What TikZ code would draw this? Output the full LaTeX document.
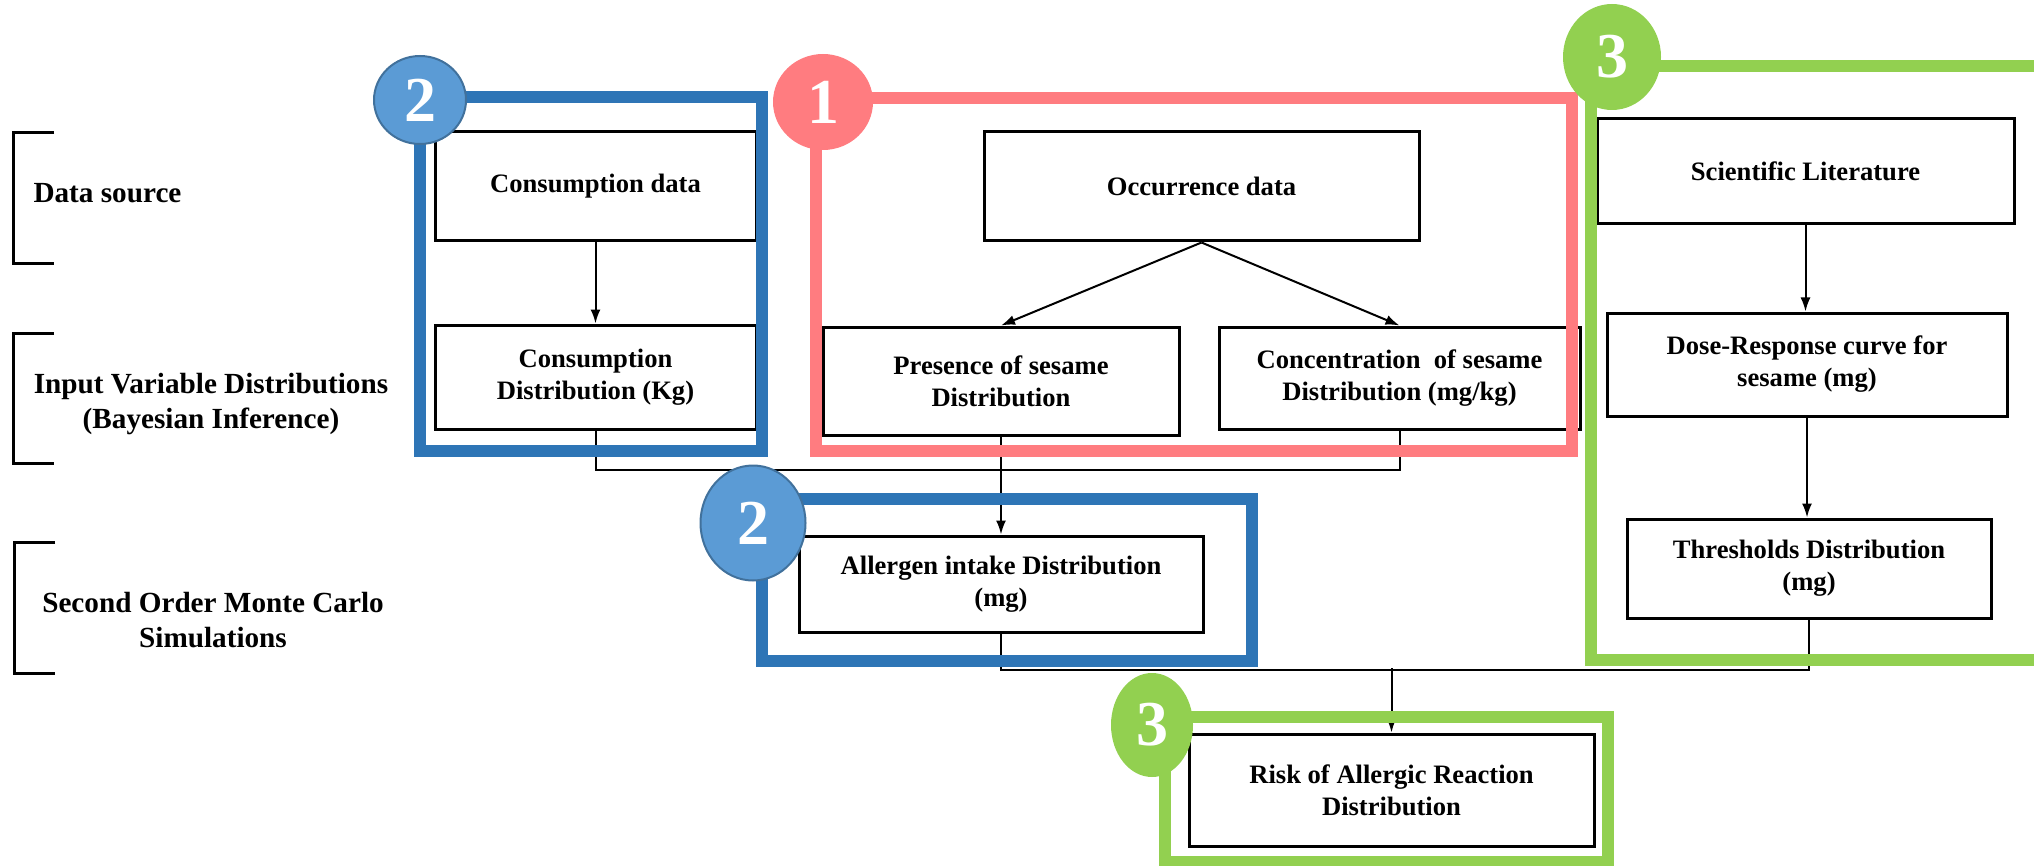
\documentclass[tikz,border=0pt]{standalone}
\usepackage{fontspec}
\setmainfont{Liberation Serif}
\usetikzlibrary{arrows.meta,shapes.geometric}
\definecolor{frameblue}{HTML}{2E75B6}
\definecolor{badgeblue}{HTML}{5B9BD5}
\definecolor{badgeline}{HTML}{41719C}
\definecolor{framered}{HTML}{FF7C80}
\definecolor{framegreen}{HTML}{92D050}

\begin{document}
\begin{tikzpicture}[x=0.5pt,y=-0.5pt,
    box/.style={draw, line width=1.5pt, align=center, inner sep=0pt,
        font=\fontsize{13.3}{16}\selectfont\bfseries},
    lbl/.style={align=center, font=\fontsize{14.6}{17.5}\selectfont\bfseries},
    frame/.style={line width=6pt},
    badge/.style={ellipse, inner sep=0pt, text=white,
        font=\fontsize{32}{32}\selectfont\bfseries},
    conn/.style={line width=1pt},
    arr/.style={conn, -{Latex[length=7pt,width=5pt]}}]
    \clip (0,0) rectangle (2034,866);
    \node[lbl] (L1) at (107.5,193) {Data source};
    \node[lbl] (L2) at (211,404) {Input Variable Distributions\\(Bayesian Inference)};
    \node[lbl] (L3) at (213,620) {Second Order Monte Carlo\\Simulations};
    \draw[line width=1.5pt] (54,133) -| (13,264) -- (54,264);
    \draw[line width=1.5pt] (54,333) -| (13,463) -- (54,463);
    \draw[line width=1.5pt] (55,542) -| (14,673) -- (55,673);
    \node[box, minimum width=160.5pt, minimum height=54.5pt] (CD) at (595.5,186.5) {Consumption data};
    \node[box, minimum width=160.5pt, minimum height=52pt] (CV) at (595.5,377) {Consumption\\Distribution (Kg)};
    \node[box, minimum width=217.5pt, minimum height=54.5pt] (OD) at (1201.5,186.5) {Occurrence data};
    \node[box, minimum width=178pt, minimum height=54pt] (PS) at (1001,381) {Presence of sesame\\Distribution};
    \node[box, minimum width=180.5pt, minimum height=51pt] (CS) at (1399.5,378) {Concentration\ \ of sesame\\Distribution (mg/kg)};
    \node[box, minimum width=208.5pt, minimum height=52.5pt] (SL) at (1805.5,171.5) {Scientific Literature};
    \node[box, minimum width=200pt, minimum height=51.5pt] (DR) at (1807,364.5) {Dose-Response curve for\\sesame (mg)};
    \node[box, minimum width=182pt, minimum height=49.5pt] (TD) at (1809,568.5) {Thresholds Distribution\\(mg)};
    \node[box, minimum width=202pt, minimum height=48pt] (AI) at (1001,584) {Allergen intake Distribution\\(mg)};
    \node[box, minimum width=202.5pt, minimum height=56pt] (RA) at (1391.5,790) {Risk of Allergic Reaction\\Distribution};
    \coordinate (J) at (1391.5,668);
    \draw[arr] (CD) -- (CV);
    \draw[arr] (OD.south) -- (PS.north);
    \draw[arr] (OD.south) -- (CS.north);
    \draw[arr] (SL.south) -- (SL.south |- DR.north);
    \draw[arr] (DR.south) -- (DR.south |- TD.north);
    \draw[conn] (CV.south) -- ++(0,39) -| (CS.south);
    \draw[arr] (PS.south) -- (AI.north);
    \draw[conn] (AI.south) -- ++(0,36) -| (TD.south);
    \draw[arr] (J) -- (RA.north);
    \draw[frame, frameblue] (420,97) rectangle (762,451);
    \draw[frame, framered] (816,98) rectangle (1572,451);
    \draw[frame, framegreen] (1591,66) rectangle (2060,660);
    \draw[frame, frameblue] (762,499) rectangle (1252,661);
    \draw[frame, framegreen] (1165,717) rectangle (1608,862);
    \node[badge, fill=badgeblue, draw=badgeline, line width=1pt, minimum width=46pt, minimum height=44pt] (B2a) at (420,100) {2};
    \node[badge, fill=framered, minimum width=50pt, minimum height=48pt] (B1) at (823,102) {1};
    \node[badge, fill=framegreen, minimum width=49pt, minimum height=53pt] (B3a) at (1612,57) {3};
    \node[badge, fill=badgeblue, draw=badgeline, line width=1pt, minimum width=52.5pt, minimum height=57.5pt] (B2b) at (753,523) {2};
    \node[badge, fill=framegreen, minimum width=41pt, minimum height=52pt] (B3b) at (1152,725) {3};
\end{tikzpicture}
\end{document}
